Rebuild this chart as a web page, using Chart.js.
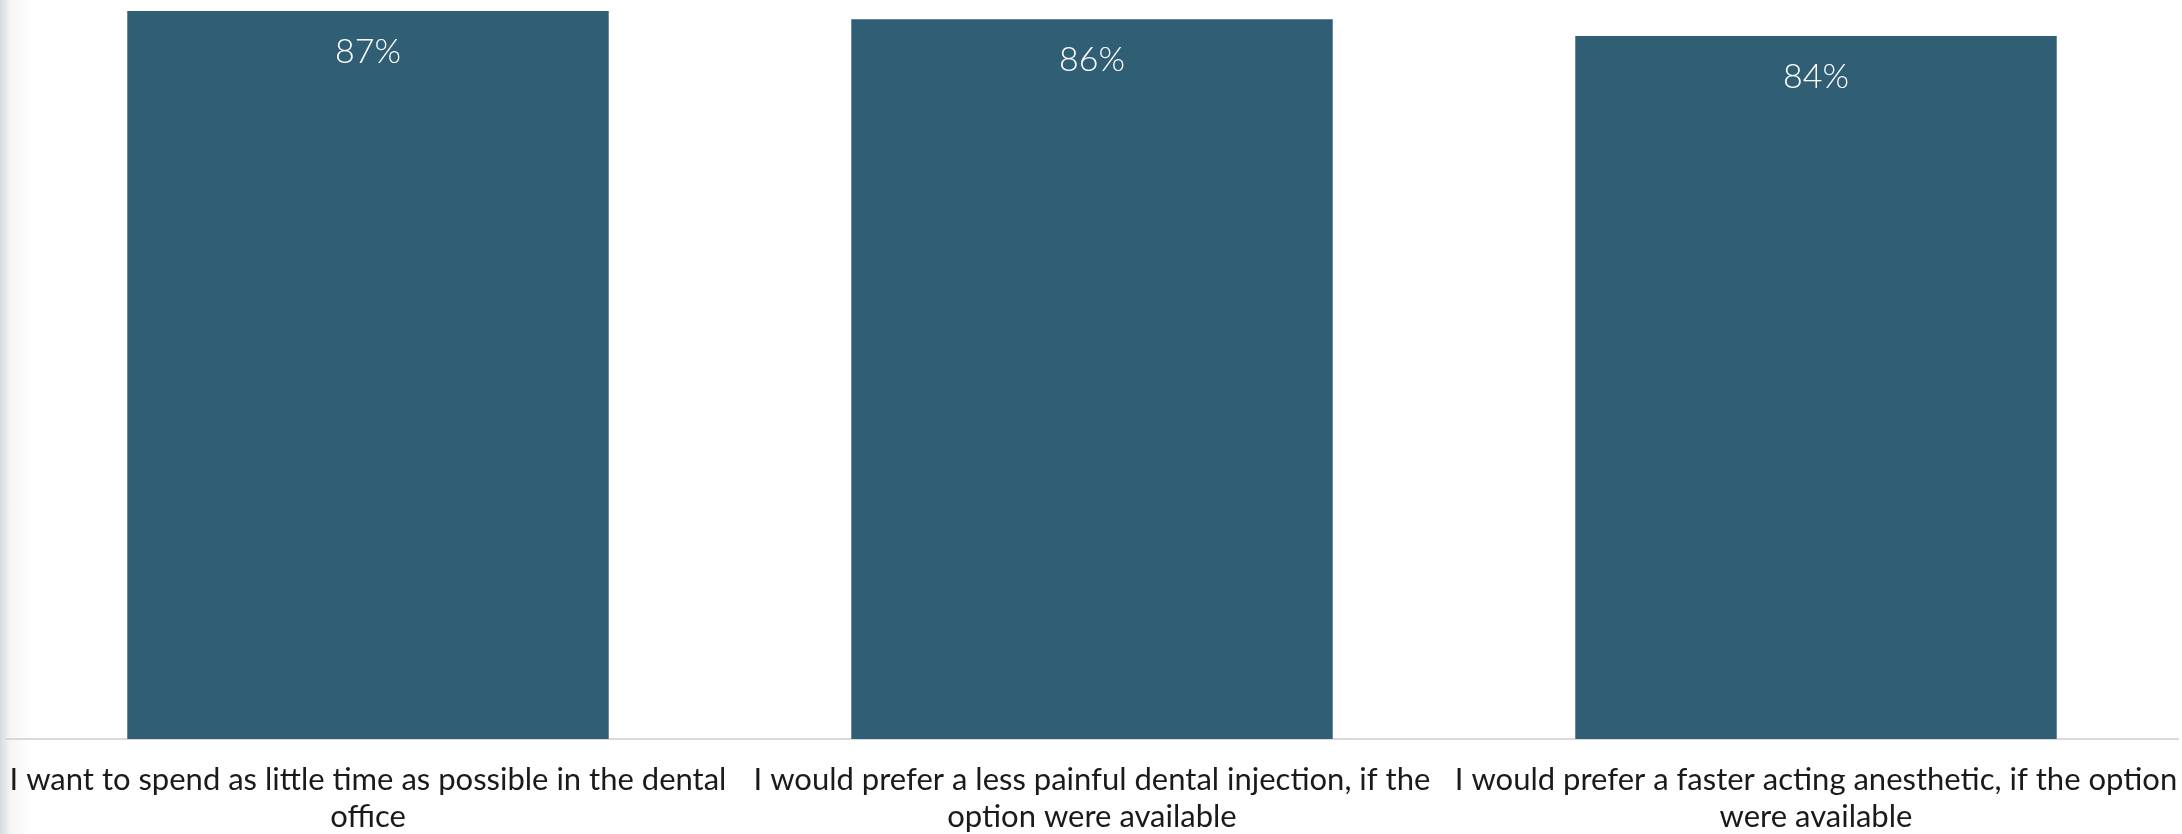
<!DOCTYPE html>
<html>
<head>
<meta charset="utf-8">
<script src="https://cdn.jsdelivr.net/npm/chart.js@4/dist/chart.umd.min.js"></script>
<style>
  html, body { margin: 0; padding: 0; }
  body {
    width: 2182px; height: 834px; overflow: hidden;
    background: linear-gradient(to right, rgba(205,212,216,0.85) 0px, rgba(236,238,238,0.6) 10px, #ffffff 32px);
  }
  #c { display: block; }
</style>
</head>
<body>
<canvas id="c" width="2182" height="834"></canvas>
<script>
const categories = [
  ["I want to spend as little time as possible in the dental", "office"],
  ["I would prefer a less painful dental injection, if the", "option were available"],
  ["I would prefer a faster acting anesthetic, if the option", "were available"]
];
const percentValues = [87, 86, 84];
const valueSuffix = "%";

const barColor = "#305f75";

const valueLabelPlugin = {
  id: "valueLabels",
  afterDatasetsDraw(chart) {
    const ctx = chart.ctx;
    const meta = chart.getDatasetMeta(0);
    ctx.save();
    ctx.fillStyle = "#ffffff";
    ctx.font = "300 34px Lato";
    ctx.textAlign = "center";
    ctx.textBaseline = "middle";
    meta.data.forEach((el, i) => {
      ctx.fillText(percentValues[i] + valueSuffix, el.x, el.y + 41);
    });
    ctx.restore();
  }
};

new Chart(document.getElementById("c"), {
  type: "bar",
  data: {
    labels: categories,
    datasets: [{
      data: percentValues,
      backgroundColor: barColor,
      borderWidth: 0,
      barPercentage: 0.665,
      categoryPercentage: 1.0
    }]
  },
  options: {
    responsive: false,
    animation: false,
    devicePixelRatio: 1,
    layout: { padding: { left: 6, right: 4, top: 0, bottom: 0 } },
    plugins: {
      legend: { display: false },
      tooltip: { enabled: false }
    },
    scales: {
      y: {
        display: false,
        min: 0,
        max: 88.3
      },
      x: {
        grid: { display: false, drawTicks: false },
        border: { display: true, color: "#d9d9d9", width: 2 },
        ticks: {
          color: "#1a1a1a",
          font: { family: "Lato", size: 31, lineHeight: 1.21 },
          padding: 22,
          maxRotation: 0,
          autoSkip: false
        },
        afterFit(scale) {
          scale.height = 95;
          scale.paddingLeft = 0;
          scale.paddingRight = 0;
        }
      }
    }
  },
  plugins: [valueLabelPlugin]
});
</script>
</body>
</html>
